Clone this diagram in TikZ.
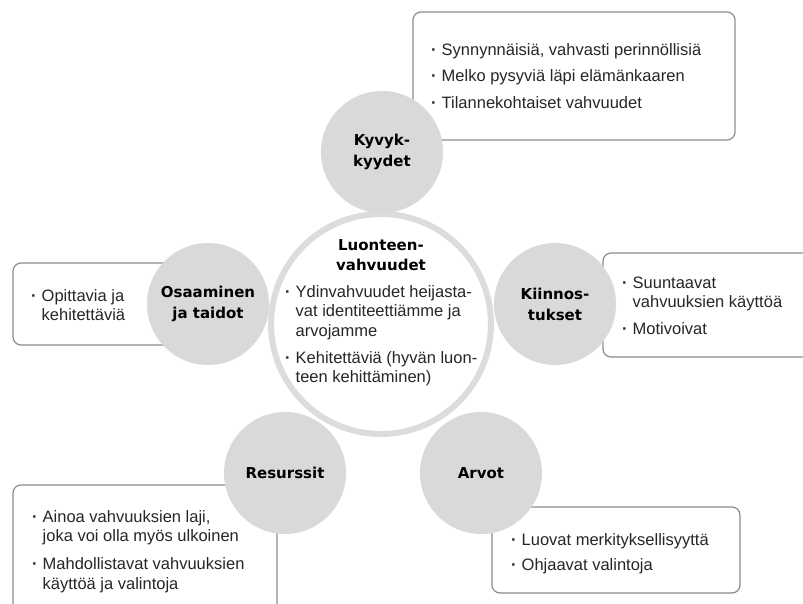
\documentclass[tikz,border=0pt]{standalone}
\usepackage{fontspec}
\setmainfont{Liberation Sans}
\newfontfamily\labelfont{DejaVu Sans}
\definecolor{circgray}{HTML}{D9D9D9}
\definecolor{ringgray}{HTML}{DCDCDC}
\definecolor{boxline}{HTML}{8C8C8C}
\definecolor{txt}{HTML}{262626}
\newcommand{\bl}{{\bfseries\textperiodcentered}}
\tikzset{
  sat/.style={circle, fill=circgray, minimum size=122pt, inner sep=0pt, align=center,
    font=\labelfont\bfseries\fontsize{15}{21}\selectfont, text=black},
  core/.style={circle, draw=ringgray, line width=6pt, fill=white, minimum size=220pt, inner sep=0pt},
  title/.style={align=center, inner sep=0pt, font=\labelfont\bfseries\fontsize{15}{20.5}\selectfont, text=black},
  infobox/.style={draw=boxline, line width=1.2pt, rounded corners=8pt, fill=white},
  body/.style={font=\fontsize{16.5}{19.5}\selectfont, text=txt, anchor=base west, inner sep=0pt},
}
\begin{document}
\begin{tikzpicture}[x=1pt,y=-1pt]
\useasboundingbox (0,0) rectangle (803,603);
\clip (0,0) rectangle (803,603);
% boxes
\draw[infobox] (413,12) rectangle (735,140);
\draw[infobox] (13,263) rectangle (200,345);
\draw[infobox] (603,253) rectangle (830,357);
\draw[infobox] (13,485) rectangle (277,630);
\draw[infobox] (492,507) rectangle (740,593);
% box texts
\node[body] (t1) at (431,55) {\begin{tabular}[t]{@{}l@{\hspace{5pt}}l@{}}
\bl & Synnynnäisiä, vahvasti perinnöllisiä\\[7pt]
\bl & Melko pysyviä läpi elämänkaaren\\[7pt]
\bl & Tilannekohtaiset vahvuudet\end{tabular}};
\node[body] (t2) at (31,301) {\begin{tabular}[t]{@{}l@{\hspace{5pt}}l@{}}
\bl & Opittavia ja\\
 & kehitettäviä\end{tabular}};
\node[body] (t3) at (622,288) {\begin{tabular}[t]{@{}l@{\hspace{5pt}}l@{}}
\bl & Suuntaavat\\
 & vahvuuksien käyttöä\\[7pt]
\bl & Motivoivat\end{tabular}};
\node[body] (t4) at (32,522) {\begin{tabular}[t]{@{}l@{\hspace{5pt}}l@{}}
\bl & Ainoa vahvuuksien laji,\\
 & joka voi olla myös ulkoinen\\[8.5pt]
\bl & Mahdollistavat vahvuuksien\\
 & käyttöä ja valintoja\end{tabular}};
\node[body] (t5) at (511,545) {\begin{tabular}[t]{@{}l@{\hspace{5pt}}l@{}}
\bl & Luovat merkityksellisyyttä\\[5.5pt]
\bl & Ohjaavat valintoja\end{tabular}};
% central ring
\node[core] (c) at (381,324) {};
\node[title] (ct) at (381,255) {Luonteen-\\vahvuudet};
\node[body] (cb) at (285,297) {\begin{tabular}[t]{@{}l@{\hspace{5pt}}l@{}}
\bl & Ydinvahvuudet heijasta-\\
 & vat identiteettiämme ja\\
 & arvojamme\\[7.5pt]
\bl & Kehitettäviä (hyvän luon-\\
 & teen kehittäminen)\end{tabular}};
% satellites
\node[sat] (kyv) at (382,152) {Kyvyk-\\kyydet};
\node[sat] (osa) at (208,304) {Osaaminen\\ja taidot};
\node[sat] (kii) at (555,304) {Kiinnos-\\tukset};
\node[sat] (res) at (285,473) {Resurssit};
\node[sat] (arv) at (481,473) {Arvot};
\end{tikzpicture}
\end{document}
